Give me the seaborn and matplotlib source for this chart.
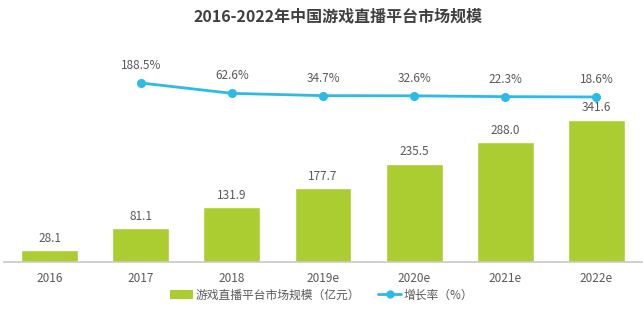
import matplotlib
matplotlib.use("Agg")
import matplotlib.pyplot as plt
from matplotlib.patches import Patch
from matplotlib.lines import Line2D
import seaborn as sns
import pandas as pd
import numpy as np

years = ["2016", "2017", "2018", "2019e", "2020e", "2021e", "2022e"]
market_size = [28.1, 81.1, 131.9, 177.7, 235.5, 288.0, 341.6]
growth_rate = [np.nan, 188.5, 62.6, 34.7, 32.6, 22.3, 18.6]
title = "2016-2022年中国游戏直播平台市场规模"
bar_label_text = "游戏直播平台市场规模（亿元）"
line_label_text = "增长率（%）"

BAR_COLOR = "#abcd32"
LINE_COLOR = "#2bbbe6"
TEXT_COLOR = "#595959"
LABEL_WEIGHT = "light"

sns.set_theme(style="white")
plt.rcParams["font.family"] = ["Noto Sans CJK SC", "DejaVu Sans"]

df = pd.DataFrame({"year": years, "size": market_size, "growth": growth_rate})

fig = plt.figure(figsize=(6.43, 3.34), dpi=100)
W, H = 643, 334
ax = fig.add_axes([4 / W, 1 - 262 / H, 638 / W, 212 / H])

sns.barplot(data=df, x="year", y="size", order=years, color=BAR_COLOR,
            width=0.625, saturation=1, ax=ax)
ax.set_ylim(0, 509.6)
ax.bar_label(ax.containers[0], fmt="%.1f", padding=4, fontsize=8.5,
             color=TEXT_COLOR, fontweight=LABEL_WEIGHT)

ax2 = ax.twinx()
sns.pointplot(data=df, x="year", y="growth", order=years, color=LINE_COLOR,
              errorbar=None, markers="o", markersize=5, linewidth=2, ax=ax2)
ax2.set_ylim(-1984, 588.6)
for i, g in enumerate(growth_rate):
    if not np.isnan(g):
        ax2.annotate(f"{g:.1f}%", (i, g), xytext=(0, 8), textcoords="offset points",
                     ha="center", va="bottom", fontsize=8.5, color=TEXT_COLOR,
                     fontweight=LABEL_WEIGHT)

for a in (ax, ax2):
    a.set_xlim(-0.5, len(years) - 0.5)
    a.set_ylabel("")
    a.set_xlabel("")
    a.set_yticks([])
    for s in ("top", "left", "right"):
        a.spines[s].set_visible(False)
    a.grid(False)
ax2.spines["bottom"].set_visible(False)
ax.spines["bottom"].set_color("#c8c8c8")
ax.spines["bottom"].set_linewidth(1.2)
ax.tick_params(axis="x", length=0, pad=7, labelsize=8.5, labelcolor=TEXT_COLOR)
for t in ax.get_xticklabels():
    t.set_fontweight(LABEL_WEIGHT)

fig.text(338 / W, 1 - 16 / H, title, ha="center", va="center",
         fontsize=11.5, fontweight="bold", color="#404040")

handles = [
    Patch(facecolor=BAR_COLOR, edgecolor="none"),
    Line2D([0], [0], color=LINE_COLOR, lw=2, marker="o", markersize=5),
]
leg = fig.legend(handles, [bar_label_text, line_label_text], loc="center",
                 bbox_to_anchor=(0.5, 1 - 295 / H), ncol=2, frameon=False,
                 fontsize=8.5, labelcolor=TEXT_COLOR, handlelength=2.0,
                 handletextpad=0.2, columnspacing=1.5)
for t in leg.get_texts():
    t.set_fontweight(LABEL_WEIGHT)

fig.savefig("out.png", dpi=100)
